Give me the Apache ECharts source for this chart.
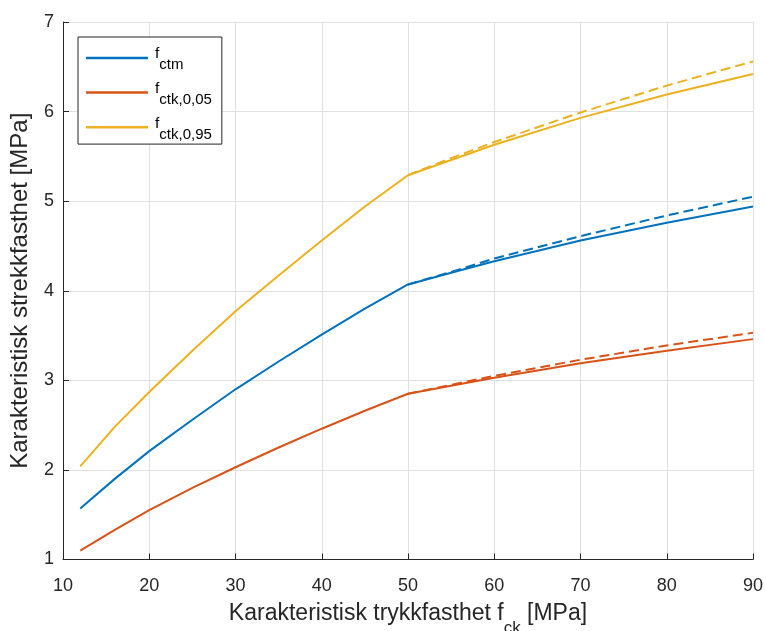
<!DOCTYPE html>
<html>
<head>
<meta charset="utf-8">
<script src="https://cdn.jsdelivr.net/npm/echarts@6/dist/echarts.min.js"></script>
<style>
html,body{margin:0;padding:0;background:#fff;}
#chart{width:766px;height:631px;}
</style>
</head>
<body>
<div id="chart"></div>
<script>
// Data
var fck = [12, 16, 20, 25, 30, 35, 40, 45, 50, 55, 60, 70, 80, 90];
var fctm = [1.57, 1.90, 2.21, 2.56, 2.90, 3.21, 3.51, 3.80, 4.07, 4.20, 4.33, 4.56, 4.76, 4.94];
var fctk005 = [1.10, 1.33, 1.55, 1.80, 2.03, 2.25, 2.46, 2.66, 2.85, 2.94, 3.03, 3.19, 3.33, 3.46];
var fctk095 = [2.04, 2.48, 2.87, 3.33, 3.77, 4.17, 4.56, 4.94, 5.29, 5.46, 5.63, 5.93, 6.19, 6.42];

var fckHigh = [50, 55, 60, 70, 80, 90];
var fctmDashed = [4.07, 4.21, 4.36, 4.61, 4.84, 5.05];
var fctk005Dashed = [2.85, 2.95, 3.05, 3.23, 3.39, 3.53];
var fctk095Dashed = [5.29, 5.48, 5.66, 5.99, 6.29, 6.56];

var xTicks = [10, 20, 30, 40, 50, 60, 70, 80, 90];
var yTicks = [1, 2, 3, 4, 5, 6, 7];

var legendNames = ['fctm', 'fctk,0,05', 'fctk,0,95'];
var legendSubs = ['ctm', 'ctk,0,05', 'ctk,0,95'];
var colors = ['#0072BD', '#D95319', '#EDB120'];

function pairs(xs, ys) { return xs.map(function (x, i) { return [x, ys[i]]; }); }

var FONT = 'Liberation Sans, Arial, Helvetica, sans-serif';
var AX = '#262626';

var chart = echarts.init(document.getElementById('chart'), null, {renderer: 'canvas'});

var solidSets = [fctm, fctk005, fctk095];
var dashedSets = [fctmDashed, fctk005Dashed, fctk095Dashed];
var series = [];
for (var i = 0; i < 3; i++) {
  series.push({
    name: legendNames[i] + ' (ekstrapolert)', type: 'line', data: pairs(fckHigh, dashedSets[i]),
    showSymbol: false, symbol: 'none', silent: true,
    lineStyle: {color: colors[i], width: 2, type: [10, 5]}, itemStyle: {color: colors[i]}, z: 2
  });
}
for (var j = 0; j < 3; j++) {
  series.push({
    name: legendNames[j], type: 'line', data: pairs(fck, solidSets[j]),
    showSymbol: false, symbol: 'none', silent: true,
    lineStyle: {color: colors[j], width: 2}, itemStyle: {color: colors[j]}, z: 3
  });
}

var option = {
  animation: false,
  backgroundColor: '#ffffff',
  grid: {left: 63, right: 13, top: 22, bottom: 71.5, containLabel: false, outerBoundsMode: 'none'},
  xAxis: {
    type: 'value', min: xTicks[0], max: xTicks[xTicks.length - 1], interval: 10,
    axisLine: {show: true, onZero: false, lineStyle: {color: AX, width: 1}},
    axisTick: {show: true, inside: true, length: 6, lineStyle: {color: AX}},
    axisLabel: {fontSize: 18, color: AX, margin: 17.5, fontFamily: FONT},
    splitLine: {show: true, lineStyle: {color: '#e0e0e0', width: 1}},
    name: '{m|Karakteristisk trykkfasthet f}{s|ck}{m| [MPa]}',
    nameLocation: 'middle', nameGap: 32, nameMoveOverlap: false,
    nameTextStyle: {
      fontFamily: FONT, color: AX,
      rich: {
        m: {fontSize: 23, fontFamily: FONT, color: AX},
        s: {fontSize: 17, fontFamily: FONT, color: AX, padding: [28, 0, 0, 0]}
      }
    }
  },
  yAxis: {
    type: 'value', min: yTicks[0], max: yTicks[yTicks.length - 1], interval: 1,
    axisLine: {show: true, onZero: false, lineStyle: {color: AX, width: 1}},
    axisTick: {show: true, inside: true, length: 6, lineStyle: {color: AX}},
    axisLabel: {fontSize: 18, color: AX, margin: 9, fontFamily: FONT},
    splitLine: {show: true, lineStyle: {color: '#e0e0e0', width: 1}},
    name: 'Karakteristisk strekkfasthet [MPa]',
    nameLocation: 'middle', nameGap: 30.5, nameMoveOverlap: false,
    nameTextStyle: {fontSize: 24, fontFamily: FONT, color: AX}
  },
  legend: {
    data: legendNames,
    orient: 'vertical', left: 78, top: 37,
    padding: [9, 10, 2, 8],
    itemGap: 8, itemWidth: 62, itemHeight: 2.5, icon: 'rect',
    backgroundColor: '#ffffff', borderColor: AX, borderWidth: 1, borderRadius: 0,
    selectedMode: false,
    formatter: function (name) {
      var k = legendNames.indexOf(name);
      return '{m|f}{s|' + legendSubs[k] + '}';
    },
    textStyle: {
      fontFamily: FONT, color: '#000',
      rich: {
        m: {fontSize: 15.5, fontFamily: FONT, color: '#000', padding: [0, 0, 7.8, 2]},
        s: {fontSize: 15, fontFamily: FONT, color: '#000', padding: [14.6, 0, 0, 0]}
      }
    }
  },
  series: series
};
chart.setOption(option);
</script>
</body>
</html>
